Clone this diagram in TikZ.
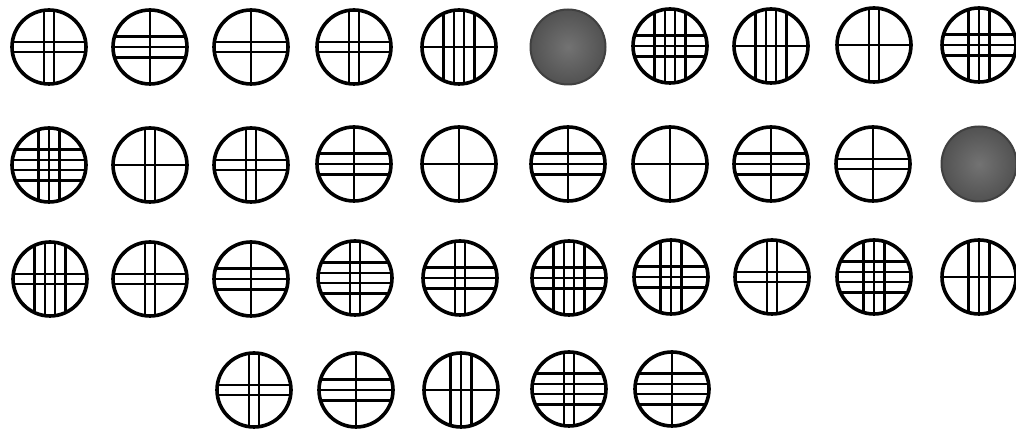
\documentclass[tikz,border=0pt]{standalone}
\usetikzlibrary{calc}
\tikzset{
  ring/.style={line width=1.8pt, draw=black},
  inner/.style={line width=1.2pt, draw=black},
  disc/.style n args={2}{circle, ring, fill=white, minimum size=37pt, inner sep=0pt,
    path picture={
      \foreach \i in {1,...,#1}{
        \draw[inner] ([xshift={(\i-(#1+1)/2)*5.2pt}, yshift=-25pt]path picture bounding box.center) -- ++(0,50pt);
      }
      \foreach \j in {1,...,#2}{
        \draw[inner] ([yshift={(\j-(#2+1)/2)*5.2pt}, xshift=-25pt]path picture bounding box.center) -- ++(50pt,0);
      }
    }},
  filled/.style={circle, line width=1pt, draw=black!75, shade, inner color=black!55, outer color=black!68, minimum size=37.5pt, inner sep=0pt}
}
\begin{document}
\begin{tikzpicture}[x=0.5pt, y=-0.5pt]
\useasboundingbox[fill=white] (0,0) rectangle (1016,431);
% row 1
\node[disc={2}{2}] (r1c1) at (49,47) {};
\node[disc={1}{3}] (r1c2) at (150,47) {};
\node[disc={1}{2}] (r1c3) at (251,47) {};
\node[disc={2}{2}] (r1c4) at (354,47) {};
\node[disc={4}{1}] (r1c5) at (459,47) {};
\node[filled] (r1c6) at (568,47) {};
\node[disc={4}{3}] (r1c7) at (670,46) {};
\node[disc={4}{1}] (r1c8) at (771,46) {};
\node[disc={2}{1}] (r1c9) at (874,45) {};
\node[disc={3}{3}] (r1c10) at (979,45) {};
% row 2
\node[disc={3}{4}] (r2c1) at (49,165) {};
\node[disc={2}{1}] (r2c2) at (150,165) {};
\node[disc={2}{2}] (r2c3) at (251,165) {};
\node[disc={1}{3}] (r2c4) at (354,164) {};
\node[disc={1}{1}] (r2c5) at (459,164) {};
\node[disc={1}{3}] (r2c6) at (568,164) {};
\node[disc={1}{1}] (r2c7) at (670,164) {};
\node[disc={1}{3}] (r2c8) at (771,164) {};
\node[disc={1}{2}] (r2c9) at (873,164) {};
\node[filled] (r2c10) at (979,164) {};
% row 3
\node[disc={4}{2}] (r3c1) at (50,279) {};
\node[disc={2}{2}] (r3c2) at (150,279) {};
\node[disc={1}{3}] (r3c3) at (251,279) {};
\node[disc={2}{4}] (r3c4) at (355,278) {};
\node[disc={2}{3}] (r3c5) at (460,278) {};
\node[disc={4}{3}] (r3c6) at (569,278) {};
\node[disc={3}{3}] (r3c7) at (671,277) {};
\node[disc={2}{2}] (r3c8) at (772,277) {};
\node[disc={3}{4}] (r3c9) at (874,277) {};
\node[disc={3}{1}] (r3c10) at (979,277) {};
% row 4
\node[disc={2}{2}] (r4c1) at (254,390) {};
\node[disc={1}{3}] (r4c2) at (356,390) {};
\node[disc={3}{1}] (r4c3) at (461,390) {};
\node[disc={2}{4}] (r4c4) at (569,389) {};
\node[disc={1}{4}] (r4c5) at (672,389) {};
\end{tikzpicture}
\end{document}
